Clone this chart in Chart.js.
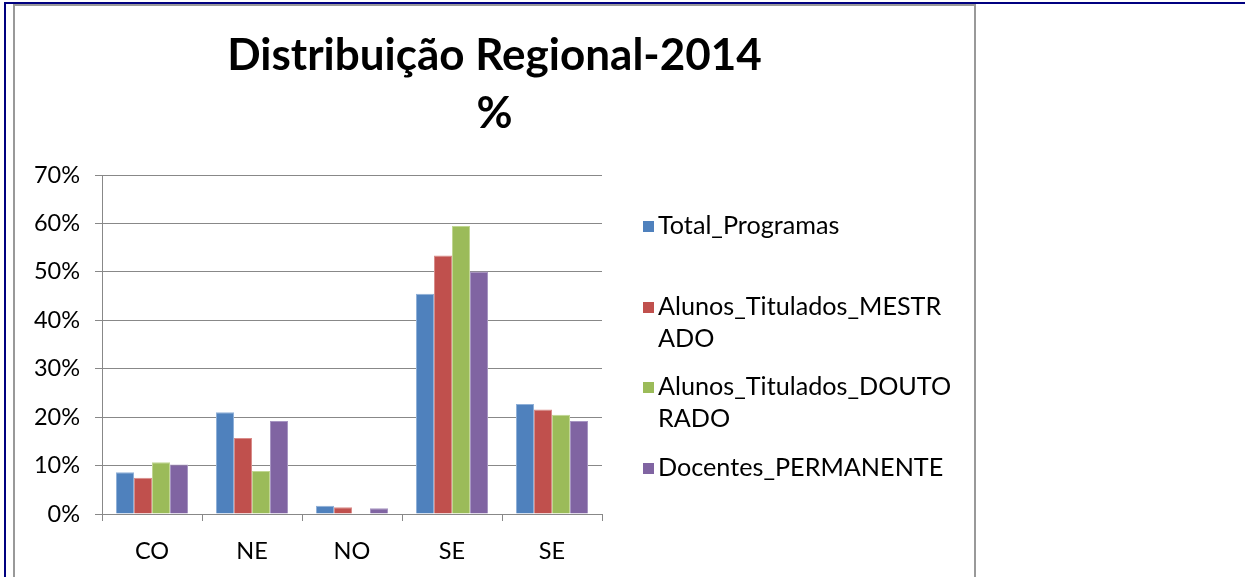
<!DOCTYPE html>
<html>
<head>
<meta charset="utf-8">
<script src="https://cdn.jsdelivr.net/npm/chart.js@4.4.1/dist/chart.umd.min.js"></script>
<style>
  body { margin: 0; background: #fff; }
  .frame {
    position: absolute; left: 4px; top: 2px; right: 0; bottom: 0;
    border-top: 2px solid #000080; border-left: 2px solid #000080;
  }
  .box {
    position: absolute; left: 13px; top: 4px; width: 959px; height: 600px;
    border: 2px solid #999; border-bottom: none; background: #fff;
  }
  .wrap { position: absolute; left: 0; top: 0; width: 959px; height: 571px; }
</style>
</head>
<body>
<div class="frame"></div>
<div class="box"><div class="wrap"><canvas id="regionChart"></canvas></div></div>
<script>
const regions = ['CO', 'NE', 'NO', 'SE', 'SE'];
const totalProgramas = [8.6, 21.0, 1.7, 45.5, 22.7];
const tituladosMestrado = [7.5, 15.7, 1.4, 53.4, 21.6];
const tituladosDoutorado = [10.7, 8.9, 0, 59.5, 20.5];
const docentesPermanente = [10.2, 19.2, 1.2, 50.1, 19.2];
const yTicks = [0, 10, 20, 30, 40, 50, 60, 70];

const seriesNames = ['Total_Programas', 'Alunos_Titulados_MESTRADO', 'Alunos_Titulados_DOUTORADO', 'Docentes_PERMANENTE'];
// legend lines as wrapped in the original
const legendLines = [
    ['Total_Programas'],
    ['Alunos_Titulados_MESTR', 'ADO'],
    ['Alunos_Titulados_DOUTO', 'RADO'],
    ['Docentes_PERMANENTE']
];
const colors = ['#4F81BD', '#C0504D', '#9BBB59', '#8064A2'];
const edges = ['#8FB0D8', '#D98B89', '#C0D692', '#A795C2'];

const FONT = 'Lato, "Open Sans", sans-serif';

const sideLegend = {
    id: 'sideLegend',
    afterDraw(chart) {
        const ctx = chart.ctx;
        const tops = [220, 301, 381, 462];
        ctx.save();
        ctx.font = '25.2px ' + FONT;
        ctx.textBaseline = 'middle';
        legendLines.forEach((lines, i) => {
            const y = tops[i];
            ctx.fillStyle = colors[i];
            ctx.fillRect(628, y - 5, 11, 11);
            ctx.fillStyle = '#000';
            lines.forEach((t, j) => ctx.fillText(t, 643, y + j * 32));
        });
        ctx.restore();
    }
};

const data = {
    labels: regions,
    datasets: [totalProgramas, tituladosMestrado, tituladosDoutorado, docentesPermanente].map((vals, i) => ({
        label: seriesNames[i],
        data: vals,
        backgroundColor: colors[i],
        borderColor: edges[i],
        borderWidth: 1,
        categoryPercentage: 0.72,
        barPercentage: 1.0
    }))
};

const config = {
    type: 'bar',
    data: data,
    plugins: [sideLegend],
    options: {
        responsive: true,
        maintainAspectRatio: false,
        animation: false,
        layout: { padding: 0 },
        scales: {
            y: {
                min: 0,
                max: 70,
                afterFit: s => { s.width = 87; },
                afterBuildTicks: s => { s.ticks = yTicks.map(v => ({ value: v })); },
                ticks: {
                    padding: 15,
                    color: '#000',
                    font: { family: FONT, size: 23.5 },
                    callback: v => v + '%'
                },
                grid: { color: '#888', lineWidth: 1, tickLength: 7 },
                border: { color: '#888', width: 1 }
            },
            // empty right-hand box that leaves room for the legend
            side: {
                type: 'linear',
                position: 'right',
                afterFit: s => { s.width = 372; },
                ticks: { display: false },
                grid: { display: false },
                border: { display: false }
            },
            x: {
                afterFit: s => { s.height = 63; },
                ticks: {
                    padding: 16,
                    color: '#000',
                    font: { family: FONT, size: 23.5 }
                },
                grid: { offset: true, drawOnChartArea: false, color: '#888', tickLength: 7 },
                border: { color: '#888', width: 1 }
            }
        },
        plugins: {
            legend: { display: false },
            tooltip: { enabled: false },
            title: {
                display: true,
                text: ['Distribuição Regional-2014', '%'],
                color: '#000',
                font: { family: FONT, size: 44, weight: 'bold', lineHeight: 1.33 },
                padding: { top: 20.5, bottom: 31.5 }
            }
        }
    }
};

const regionChart = new Chart(document.getElementById('regionChart').getContext('2d'), config);
</script>
</body>
</html>
